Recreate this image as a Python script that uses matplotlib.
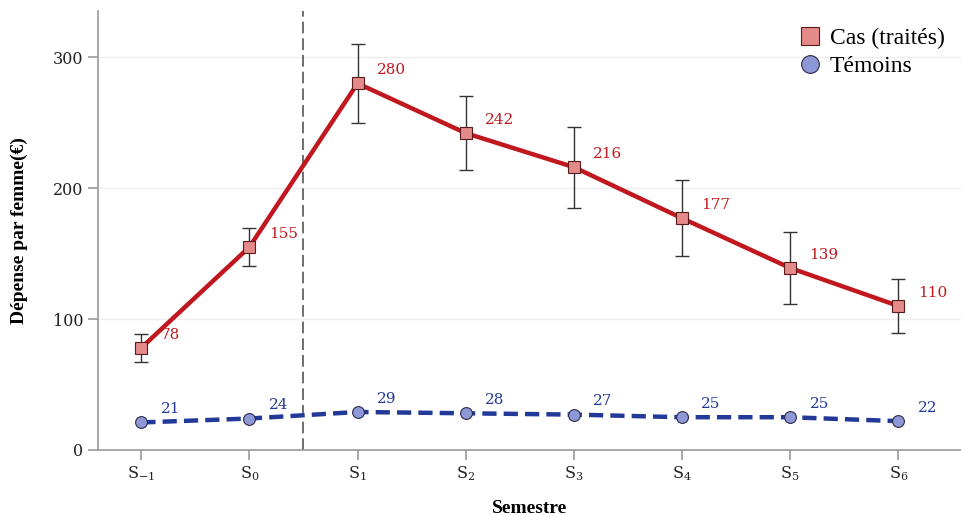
import matplotlib
matplotlib.use("Agg")
import matplotlib.pyplot as plt
import numpy as np

# Data
semestres = ["S$_{-1}$", "S$_{0}$", "S$_{1}$", "S$_{2}$", "S$_{3}$", "S$_{4}$", "S$_{5}$", "S$_{6}$"]
cas = [78, 155, 280, 242, 216, 177, 139, 110]
cas_err = [10.5, 14.5, 30, 28, 31, 29, 27.5, 20.5]
temoins = [21, 24, 29, 28, 27, 25, 25, 22]

red = "#c0181e"
blue = "#22399a"
serif_ticks = "DejaVu Serif"
serif_labels = "Liberation Serif"

plt.rcParams["mathtext.fontset"] = "dejavuserif"

fig = plt.figure(figsize=(9.61, 5.16), dpi=100)
ax = fig.add_axes([0.102, 0.128, 0.898, 0.85])

x = np.arange(len(semestres))

ax.errorbar(x, cas, yerr=cas_err, fmt="none", ecolor="#333333", elinewidth=1.0,
            capsize=5, capthick=1.0, zorder=3)
ax.plot(x, cas, color=red, lw=3.2, marker="s", ms=9, mfc="#e58a8a", mec="#5a1a1a",
        mew=0.8, zorder=4, label="Cas (traités)")
ax.plot(x, temoins, color=blue, lw=3.2, ls=(0, (3.2, 1.6)), marker="o", ms=8.5,
        mfc="#8e98d6", mec="#2b2b4a", mew=0.8, zorder=4, label="Témoins")

for xi, v in zip(x, cas):
    ax.annotate(str(v), (xi, v), xytext=(14, 9.5), textcoords="offset points",
                color=red, fontsize=11, family=serif_ticks, va="center")
for xi, v in zip(x, temoins):
    ax.annotate(str(v), (xi, v), xytext=(14, 9.5), textcoords="offset points",
                color=blue, fontsize=11, family=serif_ticks, va="center")

ax.axvline(1.5, color="#555555", lw=1.2, ls=(0, (7, 3)), zorder=2)

ax.set_xlim(-0.4, 7.58)
ax.set_ylim(0, 335)
ax.set_yticks([0, 100, 200, 300])
ax.set_xticks(x)
ax.set_xticklabels(semestres)
ax.grid(axis="y", color="#eeeeee", lw=1)
ax.set_axisbelow(True)

for s in ["top", "right"]:
    ax.spines[s].set_visible(False)
for s in ["left", "bottom"]:
    ax.spines[s].set_color("#999999")
    ax.spines[s].set_linewidth(1.2)
ax.tick_params(colors="#999999", length=7, width=1.2, labelcolor="#222222",
               labelsize=11.5)
for lab in ax.get_yticklabels() + ax.get_xticklabels():
    lab.set_family(serif_ticks)

ax.set_xlabel("Semestre", fontsize=14, fontweight="bold", family=serif_labels,
              labelpad=12)
ax.set_ylabel("Dépense par femme(€)", fontsize=14, fontweight="bold",
              family=serif_labels, labelpad=18)

leg = ax.legend(loc="upper right", bbox_to_anchor=(1.0, 1.0), frameon=False,
                prop={"family": serif_labels, "size": 17}, handlelength=0.9,
                handletextpad=0.4, labelspacing=0.25, markerscale=1.5,
                borderaxespad=0.3)
for h in leg.legend_handles:
    h.set_linestyle("none")

fig.savefig("out.png", dpi=100)
